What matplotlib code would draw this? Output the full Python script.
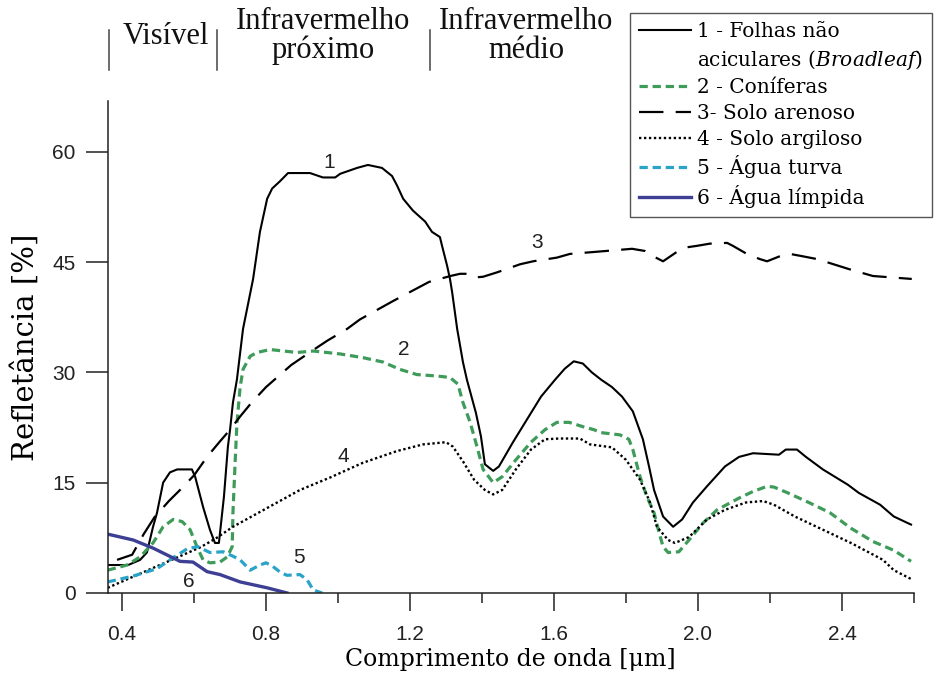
import numpy as np
import matplotlib
matplotlib.use("Agg")
import matplotlib.pyplot as plt
from matplotlib.lines import Line2D

plt.rcParams['mathtext.fontset'] = 'custom'
plt.rcParams['mathtext.rm'] = 'DejaVu Serif'
plt.rcParams['mathtext.it'] = 'DejaVu Serif:italic'

# ---------------- data (wavelength [um], reflectance [%]) ----------------
broadleaf = [(0.360, 3.8), (0.417, 3.8), (0.450, 4.5), (0.469, 5.5), (0.486, 9.0), (0.497, 10.9),
             (0.514, 15.0), (0.533, 16.4), (0.553, 16.8), (0.594, 16.8), (0.603, 15.8), (0.625, 11.7),
             (0.644, 8.6), (0.658, 6.8), (0.669, 6.8), (0.683, 13.1), (0.694, 19.9), (0.700, 22.2),
             (0.708, 25.9), (0.719, 29.0), (0.736, 35.9), (0.764, 42.7), (0.783, 49.1), (0.803, 53.6),
             (0.817, 55.0), (0.839, 56.0), (0.861, 57.1), (0.922, 57.1), (0.958, 56.5), (0.992, 56.5),
             (1.006, 57.0), (1.053, 57.8), (1.083, 58.2), (1.122, 57.8), (1.150, 56.7), (1.164, 55.4),
             (1.181, 53.6), (1.208, 52.0), (1.242, 50.5), (1.261, 49.1), (1.283, 48.4), (1.289, 47.2),
             (1.303, 44.5), (1.311, 42.7), (1.317, 40.9), (1.331, 35.9), (1.347, 31.4), (1.358, 29.0),
             (1.383, 24.5), (1.397, 21.3), (1.408, 17.5), (1.431, 16.6), (1.447, 17.2), (1.486, 20.5),
             (1.525, 23.6), (1.564, 26.7), (1.603, 29.0), (1.630, 30.5), (1.655, 31.5), (1.680, 31.2),
             (1.705, 30.0), (1.731, 29.0), (1.761, 28.0), (1.789, 26.7), (1.819, 24.7), (1.847, 20.9),
             (1.864, 17.2), (1.878, 14.0), (1.903, 10.4), (1.931, 9.0), (1.956, 10.0), (1.986, 12.3),
             (2.025, 14.5), (2.075, 17.2), (2.114, 18.5), (2.153, 19.0), (2.225, 18.8), (2.244, 19.5),
             (2.275, 19.5), (2.300, 18.5), (2.347, 16.8), (2.417, 14.7), (2.447, 13.6), (2.506, 12.0),
             (2.544, 10.4), (2.583, 9.5), (2.592, 9.3)]

conifers = [(0.360, 3.1), (0.414, 3.8), (0.450, 4.9), (0.486, 6.8), (0.514, 9.0), (0.542, 10.0),
            (0.567, 9.7), (0.589, 8.6), (0.608, 6.3), (0.625, 4.5), (0.644, 4.1), (0.672, 4.2),
            (0.692, 4.9), (0.706, 6.3), (0.708, 10.9), (0.714, 17.7), (0.719, 23.0), (0.728, 28.0),
            (0.736, 30.4), (0.756, 32.2), (0.775, 32.7), (0.811, 33.1), (0.886, 32.7), (0.931, 32.9),
            (1.006, 32.5), (1.069, 32.0), (1.125, 31.4), (1.172, 30.4), (1.219, 29.7), (1.275, 29.5),
            (1.311, 29.3), (1.333, 28.4), (1.347, 25.9), (1.367, 23.2), (1.386, 19.9), (1.403, 16.8),
            (1.431, 15.0), (1.456, 15.8), (1.494, 18.1), (1.536, 20.5), (1.575, 22.2), (1.608, 23.2),
            (1.642, 23.2), (1.681, 22.6), (1.711, 22.2), (1.731, 21.8), (1.783, 21.5), (1.808, 20.9),
            (1.819, 19.5), (1.839, 15.8), (1.858, 13.1), (1.878, 10.9), (1.892, 8.2), (1.903, 6.3),
            (1.917, 5.5), (1.947, 5.6), (1.975, 7.2), (2.014, 9.5), (2.053, 11.3), (2.114, 12.9),
            (2.153, 13.8), (2.192, 14.5), (2.211, 14.4), (2.250, 13.6), (2.308, 12.3), (2.367, 10.9),
            (2.425, 8.8), (2.486, 7.0), (2.544, 5.8), (2.592, 4.3)]

sandy_soil = [(0.386, 4.5), (0.428, 5.2), (0.460, 8.0), (0.490, 10.3), (0.530, 12.5), (0.567, 14.3),
              (0.600, 16.0), (0.636, 18.5), (0.670, 20.5), (0.700, 22.2), (0.728, 24.0), (0.760, 25.9),
              (0.800, 28.0), (0.870, 31.0), (0.930, 33.0), (0.970, 34.3), (1.025, 35.9), (1.061, 37.2),
              (1.153, 39.7), (1.253, 42.3), (1.312, 43.1), (1.339, 43.4), (1.360, 43.4), (1.380, 42.9),
              (1.403, 43.0), (1.442, 43.6), (1.506, 44.7), (1.542, 45.1), (1.608, 45.6), (1.644, 46.1),
              (1.719, 46.4), (1.817, 46.8), (1.853, 46.5), (1.875, 45.8), (1.903, 45.1), (1.942, 46.4),
              (1.969, 47.0), (1.997, 47.2), (2.033, 47.5), (2.081, 47.6), (2.097, 47.2), (2.136, 46.1),
              (2.172, 45.4), (2.192, 45.1), (2.228, 45.8), (2.256, 46.1), (2.289, 45.8), (2.331, 45.4),
              (2.422, 44.0), (2.486, 43.1), (2.594, 42.7)]

clay_soil = [(0.360, 0.7), (0.486, 3.4), (0.617, 6.2), (0.660, 7.4), (0.708, 9.0), (0.894, 14.0),
             (0.978, 15.7), (1.069, 17.7), (1.164, 19.3), (1.236, 20.2), (1.300, 20.5), (1.319, 19.9),
             (1.347, 17.9), (1.378, 15.4), (1.408, 14.0), (1.431, 13.4), (1.456, 14.0), (1.494, 16.8),
             (1.536, 19.5), (1.575, 20.9), (1.614, 21.0), (1.672, 21.0), (1.700, 20.2), (1.761, 19.8),
             (1.800, 18.1), (1.839, 15.4), (1.867, 12.3), (1.886, 9.0), (1.917, 7.2), (1.936, 6.8),
             (1.975, 7.6), (2.025, 10.0), (2.075, 11.3), (2.133, 12.3), (2.181, 12.5), (2.211, 12.0),
             (2.269, 10.4), (2.347, 8.6), (2.425, 6.8), (2.514, 4.5), (2.544, 3.1), (2.592, 1.9)]

turbid_water = [(0.360, 1.5), (0.431, 2.3), (0.497, 3.3), (0.542, 4.8), (0.581, 6.0), (0.610, 6.3),
                (0.644, 5.5), (0.681, 5.6), (0.708, 5.0), (0.728, 4.5), (0.756, 3.1), (0.783, 3.8),
                (0.800, 4.1), (0.819, 3.6), (0.840, 2.8), (0.858, 2.4), (0.894, 2.5), (0.914, 1.8),
                (0.931, 0.4), (0.956, 0.0)]

clear_water = [(0.360, 8.0), (0.431, 7.2), (0.486, 6.1), (0.561, 4.3), (0.597, 4.2), (0.636, 2.9),
               (0.672, 2.5), (0.728, 1.5), (0.803, 0.7), (0.858, 0.0)]

legend_labels = ["1 - Folhas não", "aciculares $\\mathit{(Broadleaf)}$", "2 - Coníferas",
                 "3- Solo arenoso", "4 - Solo argiloso", "5 - Água turva", "6 - Água límpida"]

curve_tags = ["1", "2", "3", "4", "5", "6"]
tag_w = [0.975, 1.183, 1.553, 1.014, 0.892, 0.586]
tag_r = [58.5, 33.1, 47.6, 18.6, 4.8, 1.5]

x_major = [0.4, 0.8, 1.2, 1.6, 2.0, 2.4]
x_minor = [0.6, 1.0, 1.4, 1.8, 2.2, 2.6]
y_major = [0, 15, 30, 45, 60]

# ---------------- figure ----------------
fig = plt.figure(figsize=(9.53, 6.8), dpi=100)
ax = fig.add_axes([0.113, 0.128, 0.846, 0.7235])

def xy(pairs):
    a = np.array(pairs)
    return a[:, 0], a[:, 1]

GREEN = '#3f9b5a'
CYAN = '#2aa3c8'
NAVY = '#3c3f93'

l1, = ax.plot(*xy(broadleaf), color='black', lw=1.5, solid_joinstyle='round')
l2, = ax.plot(*xy(conifers), color=GREEN, lw=2.3, linestyle=(0, (2.6, 1.5)))
l3, = ax.plot(*xy(sandy_soil), color='black', lw=1.6, linestyle=(0, (11, 5.5)))
l4, = ax.plot(*xy(clay_soil), color='black', lw=1.7, linestyle=(0, (1, 1.1)))
l5, = ax.plot(*xy(turbid_water), color=CYAN, lw=2.3, linestyle=(0, (2.6, 1.5)))
l6, = ax.plot(*xy(clear_water), color=NAVY, lw=2.4)

for t, w, r in zip(curve_tags, tag_w, tag_r):
    ax.text(w, r, t, ha='center', va='center', fontsize=15, family='Liberation Sans', color='#222222')

ax.set_xlim(0.36, 2.6)
ax.set_ylim(0, 66.9)
ax.set_xticks(x_major)
ax.set_xticklabels([f"{v:.1f}" for v in x_major])
ax.set_xticks(x_minor, minor=True)
ax.set_yticks(y_major)
ax.set_yticklabels([str(v) for v in y_major])

for s in ['top', 'right']:
    ax.spines[s].set_visible(False)
for s in ['left', 'bottom']:
    ax.spines[s].set_linewidth(1.1)
    ax.spines[s].set_color('#222222')

ax.tick_params(axis='x', which='major', direction='out', length=13, width=1.1, pad=10,
               labelsize=15, colors='#222222')
ax.tick_params(axis='x', which='minor', direction='out', length=7, width=1.1, colors='#222222')
ax.tick_params(axis='y', which='major', direction='out', length=16, width=1.1, pad=7,
               labelsize=15, colors='#222222')
for lab in ax.get_xticklabels() + ax.get_yticklabels():
    lab.set_family('Liberation Sans')

ax.set_xlabel("Comprimento de onda [μm]", family='DejaVu Serif', fontsize=17, labelpad=3)
ax.set_ylabel("Refletância [%]", family='DejaVu Serif', fontsize=21, labelpad=9)

# legend
blank = Line2D([], [], color='none')
leg = fig.legend([l1, blank, l2, l3, l4, l5, l6], legend_labels,
                 loc='upper left', bbox_to_anchor=(630 / 953, 1 - 13 / 680),
                 bbox_transform=fig.transFigure, frameon=True, fancybox=False,
                 edgecolor='#555555', framealpha=1, borderaxespad=0,
                 prop={'family': 'DejaVu Serif', 'size': 14.5}, handlelength=2.6,
                 handletextpad=0.3, labelspacing=0.33, borderpad=0.45)
leg.get_frame().set_linewidth(1.0)

# header with spectral regions
hdr = dict(family='Liberation Serif', fontsize=22, ha='center', va='center', color='#111111',
           linespacing=1.0)
fig.text(166 / 953, 1 - 36 / 680, "Visível", **hdr)
fig.text(323 / 953, 1 - 36 / 680, "Infravermelho\npróximo", multialignment='center', **hdr)
fig.text(526 / 953, 1 - 36 / 680, "Infravermelho\nmédio", multialignment='center', **hdr)
for xs in [109, 217, 430]:
    fig.add_artist(Line2D([xs / 953, xs / 953], [1 - 30 / 680, 1 - 70 / 680],
                          transform=fig.transFigure, color='#444444', lw=1.1))

fig.savefig("out.png", dpi=100)
